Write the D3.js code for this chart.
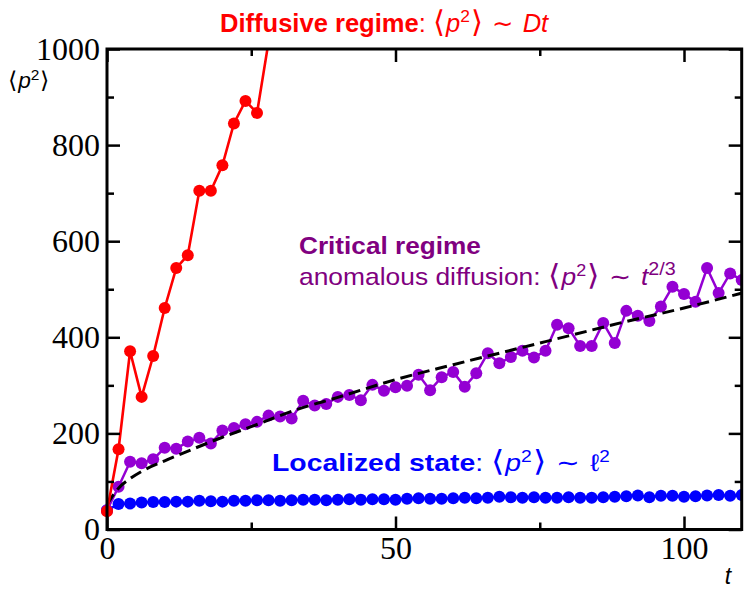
<!DOCTYPE html>
<html><head><meta charset="utf-8">
<script src="https://cdn.jsdelivr.net/npm/d3@7"></script>
<style>body{margin:0;background:#fff}svg{display:block}</style>
</head><body>
<svg id="chart" width="744" height="590"></svg>
<script>
// ---------- data ----------
const tRed = [0,2,4,6,8,10,12,14,16,18,20,22,24,26,28];
const redValues = [38,167,371,276,361,461,544,571,705,705,758,845,892,867,1015];

const tSeries = d3.range(0, 111, 2); // t = 0,2,...,110
const purpleValues = [40,89,141,138,146,170,168,183,191,179,206,211,219,224,237,235,231,268,258,261,
  276,280,269,301,289,296,299,322,290,317,328,297,325,367,346,359,372,358,372,426,
  419,382,382,430,388,455,445,434,464,505,490,474,544,492,533,519];
const blueValues = [40,53,54,56,57,57,58,58,60,59,58,60,60,61,61,60,61,62,62,61,
  62,63,62,63,63,62,64,65,64,64,65,66,65,66,68,67,66,67,66,66,
  67,66,66,67,68,69,71,67,70,70,68,69,71,72,70,72];

const tFit = [0,2,4,6,10,15,20,25,33,40,50,60,70,80,90,100,110];
const fitValues = [52,86,106,121,143,168,192,214,250,275,312,343,373,403,433,461,492];

const xMajor = [0,50,100], xMinor = [25,75];
const yMajor = [0,200,400,600,800,1000], yMinor = [100,300,500,700,900];

// ---------- layout ----------
const svg = d3.select("#chart");
const L = 107, R = 741.7, T = 49, B = 529.5;
const x = d3.scaleLinear().domain([0,110]).range([L,R]);
const y = d3.scaleLinear().domain([0,1000]).range([B,T]);

svg.append("defs").append("clipPath").attr("id","clip")
  .append("rect").attr("x",0).attr("y",T).attr("width",R).attr("height",590-T);

const plot = svg.append("g").attr("clip-path","url(#clip)");
function series(ts, vals, color, width, r){
  const pts = ts.map((t,i)=>[t, vals[i]]);
  plot.append("path").datum(pts)
    .attr("fill","none").attr("stroke",color).attr("stroke-width",width)
    .attr("d", d3.line().x(d=>x(d[0])).y(d=>y(d[1])));
  plot.append("g").selectAll("circle").data(pts).join("circle")
    .attr("cx",d=>x(d[0])).attr("cy",d=>y(d[1])).attr("r",r).attr("fill",color);
}
series(tSeries, blueValues, "#0000ff", 2.5, 6);
series(tSeries, purpleValues, "#9400d3", 2.5, 6);
plot.append("path").datum(tFit.map((t,i)=>[t,fitValues[i]]))
  .attr("fill","none").attr("stroke","#000").attr("stroke-width",3)
  .attr("stroke-dasharray","12,6")
  .attr("d", d3.line().curve(d3.curveMonotoneX).x(d=>x(d[0])).y(d=>y(d[1])));
series(tRed, redValues, "#ff0000", 2.6, 6);

// ---------- axes ----------
const tickFont = "'Liberation Serif','Times New Roman',serif";
function axis(gen, pos, vals, size, labels){
  const g = svg.append("g").attr("transform", pos)
    .call(gen.tickValues(vals).tickSize(-size).tickPadding(7)
      .tickFormat(labels ? d3.format("d") : ""));
  g.select(".domain").remove();
  g.selectAll("line").attr("stroke","#000").attr("stroke-width",2.5);
  g.selectAll("text").attr("font-family",tickFont).attr("font-size",32)
    .attr("font-weight","normal").attr("fill","#000");
  return g;
}
axis(d3.axisBottom(x), `translate(0,${B})`, xMajor, 13, true);
axis(d3.axisBottom(x), `translate(0,${B})`, xMinor, 7, false);
axis(d3.axisTop(x), `translate(0,${T})`, xMajor, 13, false);
axis(d3.axisTop(x), `translate(0,${T})`, xMinor, 7, false);
axis(d3.axisLeft(y), `translate(${L},0)`, yMajor, 13, true);
axis(d3.axisLeft(y), `translate(${L},0)`, yMinor, 7, false);
axis(d3.axisRight(y), `translate(${R},0)`, yMajor, 13, false);
axis(d3.axisRight(y), `translate(${R},0)`, yMinor, 7, false);
svg.append("rect").attr("x",L).attr("y",T).attr("width",R-L).attr("height",B-T)
  .attr("fill","none").attr("stroke","#000").attr("stroke-width",3);

// ---------- texts ----------
const sans = "'Liberation Sans',Arial,Helvetica,sans-serif";
// text placed at (x0,y0) then stretched horizontally to span targetW pixels
function mathLabel(x0, y0, fs, color, parts, targetW){
  const g = svg.append("g").attr("transform", `translate(${x0},${y0})`);
  const t = g.append("text").attr("x",0).attr("y",0)
    .attr("font-family",sans).attr("font-size",fs).attr("fill",color);
  parts.forEach(p=>{
    const ts = t.append("tspan").text(p.t);
    if(p.b) ts.attr("font-weight","bold");
    if(p.i) ts.attr("font-style","italic");
    if(p.fs) ts.attr("font-size", p.fs);
    if(p.dy) ts.attr("dy", p.dy);
    if(p.dx) ts.attr("dx", p.dx);
  });
  const w = t.node().getBBox().width;
  if (w > 0 && targetW) g.attr("transform", `translate(${x0},${y0}) scale(${targetW/w},1)`);
  return g;
}
function pSquared(fs, br){
  return [{t:"⟨",fs:fs*br},{t:"p",i:true,fs:fs,dx:1},{t:"2",dy:-fs*0.38,fs:fs*0.68},
          {t:"⟩",dy:fs*0.38,fs:fs*br,dx:1}];
}
// title
mathLabel(220, 31.5, 25, "#ff0000",
  [{t:"Diffusive regime",b:true},{t:": "}].concat(pSquared(25,1.2),
  [{t:" ∼ ",dx:2},{t:"Dt",i:true,dx:2}]), 330);
// critical regime
mathLabel(299, 254, 24, "#800080", [{t:"Critical regime",b:true}], 182);
mathLabel(299, 285, 24, "#800080",
  [{t:"anomalous diffusion: "}].concat(pSquared(24,1.2),
  [{t:" ∼ ",dx:2},{t:"t",i:true,dx:2},{t:"2/3",dy:-10,fs:18}]), 376);
// localized state
mathLabel(272, 471, 24, "#0000ff",
  [{t:"Localized state",b:true},{t:": "}].concat(pSquared(24,1.2),
  [{t:" ∼ ",dx:2},{t:"ℓ",dx:2},{t:"2",dy:-9,fs:16}]), 338);

// axis labels
mathLabel(8, 88, 22, "#000", pSquared(22,1.05), 42);
svg.append("text").attr("x",728).attr("y",584).attr("text-anchor","middle")
  .attr("font-family",sans).attr("font-size",23).attr("font-style","italic").text("t");
</script>
</body></html>
